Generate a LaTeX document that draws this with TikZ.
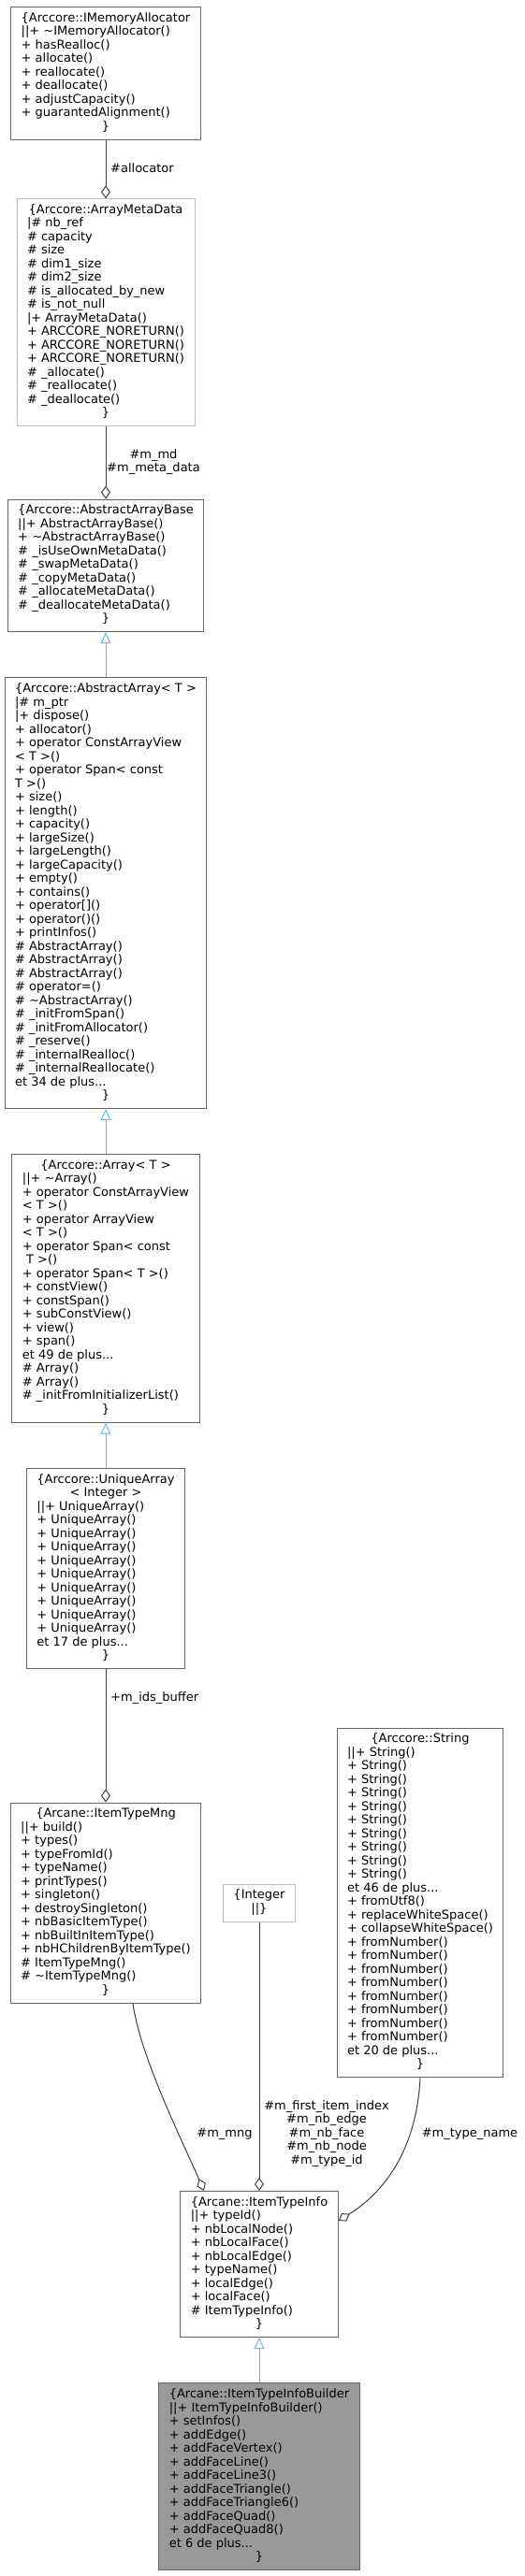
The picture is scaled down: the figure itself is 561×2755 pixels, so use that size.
\documentclass[tikz,border=0pt]{standalone}
\usepackage{fontspec}
\setmainfont{DejaVu Sans}
\usepackage{tikz}
\usetikzlibrary{arrows.meta,positioning,calc}
\definecolor{boxgray}{HTML}{666666}
\definecolor{linkgray}{HTML}{BFBFBF}
\definecolor{focusfill}{HTML}{999999}
\definecolor{edgegray}{HTML}{404040}
\definecolor{inhblue}{HTML}{63B8FF}
% one class record: centred title, left member lines, centred closing brace
\newcommand{\members}[2]{%
  \begin{tabular}{@{}l@{}}
    \multicolumn{1}{@{}c@{}}{\begin{tabular}[t]{@{}c@{}}#1\end{tabular}}\\
    #2\\
    \multicolumn{1}{@{}c@{}}{\}}
  \end{tabular}}
\tikzset{
  cls/.style={draw=boxgray,fill=white,line width=1pt,inner xsep=11pt,inner ysep=5.5pt,
    anchor=north,font=\fontsize{13}{14.5}\selectfont},
  clsext/.style={cls,draw=linkgray},
  clsfocus/.style={cls,fill=focusfill},
  agg/.style={draw=edgegray,line width=1pt,-{Diamond[open,length=14pt,width=10pt]}},
  inh/.style={draw=inhblue,line width=1pt,-{Triangle[open,length=12pt,width=11pt]}},
  lbl/.style={font=\fontsize{13}{14.5}\selectfont,align=center,inner sep=0pt},
}
\begin{document}
\begin{tikzpicture}[x=1pt,y=-1pt]
  \useasboundingbox (0,0) rectangle (561,2755);
  % array chain
  \node[cls] (alloc) at (113,7) {\members{\{Arccore::IMemoryAllocator}{||+ \textasciitilde IMemoryAllocator()\\+ hasRealloc()\\+ allocate()\\+ reallocate()\\+ deallocate()\\+ adjustCapacity()\\+ guarantedAlignment()}};
  \node[clsext] (metadata) at (113,212.3) {\members{\{Arccore::ArrayMetaData}{|\# nb\_ref\\\# capacity\\\# size\\\# dim1\_size\\\# dim2\_size\\\# is\_allocated\_by\_new\\\# is\_not\_null\\|+ ArrayMetaData()\\+ ARCCORE\_NORETURN()\\+ ARCCORE\_NORETURN()\\+ ARCCORE\_NORETURN()\\\# \_allocate()\\\# \_reallocate()\\\# \_deallocate()}};
  \node[cls] (arraybase) at (113,533.6) {\members{\{Arccore::AbstractArrayBase}{||+ AbstractArrayBase()\\+ \textasciitilde AbstractArrayBase()\\\# \_isUseOwnMetaData()\\\# \_swapMetaData()\\\# \_copyMetaData()\\\# \_allocateMetaData()\\\# \_deallocateMetaData()}};
  \node[cls] (abstractarray) at (113,724.4) {\members{\{Arccore::AbstractArray< T >}{|\# m\_ptr\\|+ dispose()\\+ allocator()\\+ operator ConstArrayView\\< T >()\\+ operator Span< const\\T >()\\+ size()\\+ length()\\+ capacity()\\+ largeSize()\\+ largeLength()\\+ largeCapacity()\\+ empty()\\+ contains()\\+ operator[]()\\+ operator()()\\+ printInfos()\\\# AbstractArray()\\\# AbstractArray()\\\# AbstractArray()\\\# operator=()\\\# \textasciitilde AbstractArray()\\\# \_initFromSpan()\\\# \_initFromAllocator()\\\# \_reserve()\\\# \_internalRealloc()\\\# \_internalReallocate()\\et 34 de plus...}};
  \node[cls] (array) at (113,1234.2) {\members{\{Arccore::Array< T >}{||+ \textasciitilde Array()\\+ operator ConstArrayView\\< T >()\\+ operator ArrayView\\< T >()\\+ operator Span< const\\\ T >()\\+ operator Span< T >()\\+ constView()\\+ constSpan()\\+ subConstView()\\+ view()\\+ span()\\et 49 de plus...\\\# Array()\\\# Array()\\\# \_initFromInitializerList()}};
  \node[cls] (uniquearray) at (113,1570) {\members{\{Arccore::UniqueArray\\< Integer >}{||+ UniqueArray()\\+ UniqueArray()\\+ UniqueArray()\\+ UniqueArray()\\+ UniqueArray()\\+ UniqueArray()\\+ UniqueArray()\\+ UniqueArray()\\+ UniqueArray()\\+ UniqueArray()\\et 17 de plus...}};
  % item type rank
  \node[cls] (typemng) at (113,1927.5) {\members{\{Arcane::ItemTypeMng}{||+ build()\\+ types()\\+ typeFromId()\\+ typeName()\\+ printTypes()\\+ singleton()\\+ destroySingleton()\\+ nbBasicItemType()\\+ nbBuiltInItemType()\\+ nbHChildrenByItemType()\\\# ItemTypeMng()\\\# \textasciitilde ItemTypeMng()}};
  \node[clsext] (integer) at (277,2014.5) {\begin{tabular}{@{}c@{}}\{Integer\\||\}\end{tabular}};
  \node[cls] (string) at (449,1847.8) {\members{\{Arccore::String}{||+ String()\\+ String()\\+ String()\\+ String()\\+ String()\\+ String()\\+ String()\\+ String()\\+ String()\\+ String()\\et 46 de plus...\\+ fromUtf8()\\+ replaceWhiteSpace()\\+ collapseWhiteSpace()\\+ fromNumber()\\+ fromNumber()\\+ fromNumber()\\+ fromNumber()\\+ fromNumber()\\+ fromNumber()\\+ fromNumber()\\+ fromNumber()\\et 20 de plus...}};
  \node[cls] (typeinfo) at (277,2343) {\members{\{Arcane::ItemTypeInfo}{||+ typeId()\\+ nbLocalNode()\\+ nbLocalFace()\\+ nbLocalEdge()\\+ typeName()\\+ localEdge()\\+ localFace()\\\# ItemTypeInfo()}};
  \node[clsfocus] (builder) at (277,2548.4) {\members{\{Arcane::ItemTypeInfoBuilder}{||+ ItemTypeInfoBuilder()\\+ setInfos()\\+ addEdge()\\+ addFaceVertex()\\+ addFaceLine()\\+ addFaceLine3()\\+ addFaceTriangle()\\+ addFaceTriangle6()\\+ addFaceQuad()\\+ addFaceQuad8()\\et 6 de plus...}};
  % usage edges
  \draw[agg] (alloc) -- (metadata);
  \draw[agg] (metadata) -- (arraybase);
  \draw[agg] (uniquearray) -- (typemng);
  \draw[agg] (integer) -- (typeinfo);
  \draw[agg] ([xshift=29pt]typemng.south) .. controls (150,2200) and (195,2290) .. ([xshift=-59pt]typeinfo.north);
  \draw[agg] (string.south) .. controls (445,2300) and (410,2345) .. ([yshift=-32pt]typeinfo.north east);
  % inheritance edges
  \draw[inh] (abstractarray) -- (arraybase);
  \draw[inh] (array) -- (abstractarray);
  \draw[inh] (uniquearray) -- (array);
  \draw[inh] (builder) -- (typeinfo);
  % edge labels
  \node[lbl,anchor=west] (lalloc) at (118,180) {\#allocator};
  \node[lbl] (lmeta) at (164,494) {\#m\_md\\\#m\_meta\_data};
  \node[lbl,anchor=west] (lbuffer) at (118,1816) {+m\_ids\_buffer};
  \node[lbl] (lmng) at (240,2282) {\#m\_mng};
  \node[lbl] (lfields) at (349,2282) {\#m\_first\_item\_index\\\#m\_nb\_edge\\\#m\_nb\_face\\\#m\_nb\_node\\\#m\_type\_id};
  \node[lbl] (lname) at (502,2282) {\#m\_type\_name};
\end{tikzpicture}
\end{document}
